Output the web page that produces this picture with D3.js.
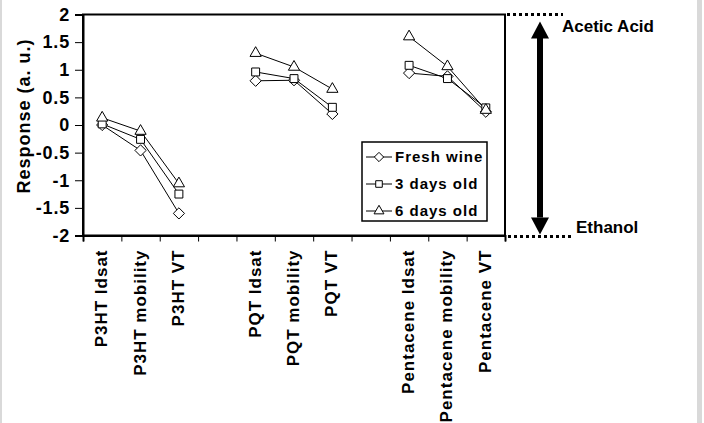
<!DOCTYPE html>
<html>
<head>
<meta charset="utf-8">
<style>
  body { margin: 0; background: #fff; }
  svg { display: block; font-family: "Liberation Sans", Arial, sans-serif; font-weight: bold; }
</style>
</head>
<body>
<svg width="704" height="423"></svg>
<script src="https://d3js.org/d3.v7.min.js"></script>
<script>

// categories; "" marks the empty slot between the three groups
var categories = ["P3HT Idsat", "P3HT mobility", "P3HT VT", "",
                  "PQT Idsat", "PQT mobility", "PQT VT", "",
                  "Pentacene Idsat", "Pentacene mobility", "Pentacene VT"];

var freshWine = [0, -0.46, -1.6, null, 0.8, 0.81, 0.2, null, 0.94, 0.88, 0.24];
var threeDays = [0.02, -0.26, -1.25, null, 0.96, 0.84, 0.32, null, 1.08, 0.84, 0.31];
var sixDays   = [0.13, -0.11, -1.06, null, 1.3, 1.05, 0.65, null, 1.6, 1.06, 0.27];

var seriesNames = ["Fresh wine", "3 days old", "6 days old"];
var yTicks = [2, 1.5, 1, 0.5, 0, -0.5, -1, -1.5, -2];

var series = [
  {name: seriesNames[0], values: freshWine, symbol: d3.symbolDiamond2},
  {name: seriesNames[1], values: threeDays, symbol: d3.symbolSquare2},
  {name: seriesNames[2], values: sixDays, symbol: d3.symbolTriangle2}
];

var svg = d3.select("svg"),
    margin = {top: 14.5, left: 83, width: 422, height: 221};

// page edges
svg.append("rect").attr("x", 0).attr("y", 0).attr("width", 2).attr("height", 423).attr("fill", "#d9d9d9");
svg.append("rect").attr("x", 697).attr("y", 0).attr("width", 5).attr("height", 423).attr("fill", "#d9d9d9");

var g = svg.append("g").attr("transform", "translate(" + margin.left + "," + margin.top + ")");

var x = d3.scaleLinear().domain([0, categories.length]).range([0, margin.width]);
var y = d3.scaleLinear().domain([-2, 2]).range([margin.height, 0]);

// frame
g.append("rect")
    .attr("width", margin.width)
    .attr("height", margin.height)
    .attr("fill", "none")
    .attr("stroke", "#000")
    .attr("stroke-width", 2);

var yAxis = g.append("g")
    .call(d3.axisLeft(y).tickValues(yTicks).tickFormat(function(d) { return String(d); }).tickSize(8).tickPadding(5));
yAxis.select(".domain").attr("stroke-width", 2);
yAxis.selectAll("text")
    .attr("font-size", 18)
    .attr("font-family", "Liberation Sans")
    .attr("font-weight", "bold")
    .attr("letter-spacing", 0.8)
    .attr("fill", "#000");

var xAxis = g.append("g")
    .attr("transform", "translate(0," + margin.height + ")")
    .call(d3.axisBottom(x).tickValues(d3.range(categories.length + 1)).tickFormat("").tickSize(6));
xAxis.select(".domain").attr("stroke-width", 2);

g.append("g").selectAll("text")
  .data(categories)
  .join("text")
    .attr("transform", function(d, i) {
      return "translate(" + (x(i + 0.5) + 5) + "," + (margin.height + 14) + ") rotate(-90)";
    })
    .attr("text-anchor", "end")
    .attr("font-size", 17)
    .attr("letter-spacing", 1)
    .text(function(d) { return d; });

svg.append("text")
    .attr("transform", "translate(30,116) rotate(-90)")
    .attr("text-anchor", "middle")
    .attr("font-size", 18)
    .attr("letter-spacing", 1)
    .text("Response (a. u.)");

var line = d3.line()
    .defined(function(d) { return d != null; })
    .x(function(d, i) { return x(i + 0.5); })
    .y(function(d) { return y(d); });

series.forEach(function(s) {
  g.append("path")
      .datum(s.values)
      .attr("fill", "none")
      .attr("stroke", "#000")
      .attr("stroke-width", 1)
      .attr("d", line);
});

series.forEach(function(s) {
  g.append("g").selectAll("path")
    .data(s.values.map(function(v, i) { return {v: v, i: i}; }).filter(function(d) { return d.v != null; }))
    .join("path")
      .attr("transform", function(d) { return "translate(" + x(d.i + 0.5) + "," + y(d.v) + ")"; })
      .attr("d", d3.symbol().type(s.symbol).size(s.symbol === d3.symbolTriangle2 ? 90 : 80))
      .attr("fill", "#fff")
      .attr("stroke", "#000")
      .attr("stroke-width", 1);
});

// legend
var legend = svg.append("g").attr("transform", "translate(362,142)");
legend.append("rect")
    .attr("width", 125)
    .attr("height", 79)
    .attr("fill", "#fff")
    .attr("stroke", "#000")
    .attr("stroke-width", 1.5);

var item = legend.selectAll(".item")
  .data(series)
  .join("g")
    .attr("transform", function(d, i) { return "translate(0," + (15 + i * 27) + ")"; });
item.append("line").attr("x1", 4).attr("x2", 30).attr("stroke", "#000");
item.append("path")
    .attr("transform", "translate(17,0)")
    .attr("d", function(d) { return d3.symbol().type(d.symbol).size(d.symbol === d3.symbolTriangle2 ? 70 : 55)(); })
    .attr("fill", "#fff")
    .attr("stroke", "#000");
item.append("text")
    .attr("x", 33)
    .attr("dy", "0.36em")
    .attr("font-size", 15)
    .attr("letter-spacing", 1)
    .text(function(d) { return d.name; });

// right-hand scale annotation
var ann = svg.append("g").attr("transform", "translate(0," + margin.top + ")");
ann.append("line")
    .attr("x1", margin.left + margin.width + 2).attr("x2", 563)
    .attr("y1", y(2)).attr("y2", y(2))
    .attr("stroke", "#000").attr("stroke-width", 3).attr("stroke-dasharray", "3,3");
ann.append("line")
    .attr("x1", margin.left + margin.width + 3).attr("x2", 572)
    .attr("y1", y(-2) + 1).attr("y2", y(-2) + 1)
    .attr("stroke", "#000").attr("stroke-width", 3).attr("stroke-dasharray", "3,3");
ann.append("line")
    .attr("x1", 540).attr("x2", 540)
    .attr("y1", y(2) + 20).attr("y2", y(-2) - 18)
    .attr("stroke", "#000").attr("stroke-width", 6);
ann.append("path")
    .attr("d", "M540," + (y(2) + 7) + "L531," + (y(2) + 24) + "L549," + (y(2) + 24) + "Z")
    .attr("fill", "#000");
ann.append("path")
    .attr("d", "M540," + (y(-2) - 1) + "L531," + (y(-2) - 18) + "L549," + (y(-2) - 18) + "Z")
    .attr("fill", "#000");
ann.append("text")
    .attr("x", 562).attr("y", y(2) + 17)
    .attr("font-size", 17)
    .text("Acetic Acid");
ann.append("text")
    .attr("x", 576).attr("y", y(-2) - 3)
    .attr("font-size", 17)
    .text("Ethanol");

</script>
</body>
</html>
